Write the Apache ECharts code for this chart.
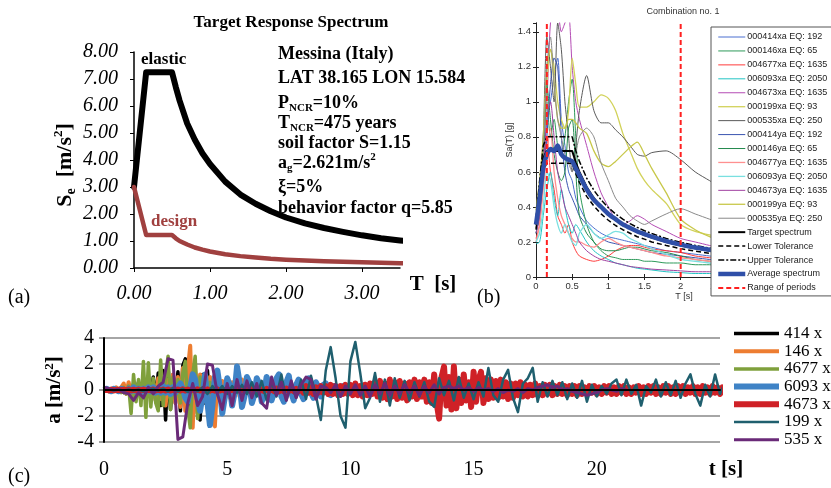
<!DOCTYPE html>
<html><head><meta charset="utf-8">
<script src="https://cdn.jsdelivr.net/npm/echarts@6/dist/echarts.min.js"></script>
<style>html,body{margin:0;padding:0;background:#fff}#c{width:831px;height:488px}</style>
</head><body><div id="c"></div>
<script>
// ---------------- Panel (a): target response spectrum ----------------
const periodsA = [0,0.16,0.5,0.55,0.6,0.7,0.8,0.9,1.0,1.2,1.4,1.6,1.8,2.0,2.25,2.5,2.75,3.0,3.25,3.5,3.75];
const elasticSe = [3.0,7.25,7.25,6.7,6.2,5.35,4.75,4.25,3.85,3.2,2.72,2.38,2.1,1.87,1.65,1.48,1.34,1.21,1.1,1.02,0.95];
const designSe  = [3.0,1.22,1.22,1.1,1.0,0.87,0.76,0.68,0.61,0.51,0.44,0.385,0.34,0.31,0.28,0.25,0.23,0.21,0.19,0.18,0.17];
const axisA = {xMax:3.5, xStep:1, yMax:8, yStep:1};

// ---------------- Panel (b): spectra of records ----------------
const periodsB = [0,0.05,0.1,0.15,0.2,0.25,0.3,0.35,0.4,0.45,0.5,0.55,0.6,0.7,0.8,0.9,1.0,1.1,1.2,1.3,1.4,1.5,1.6,1.8,2.0,2.2,2.4,2.6,2.8,3.0,3.5,4.0];
const rec000414xa = [0.3,0.4,0.6,0.9,1.0,1.15,1.25,0.9,0.75,0.6, 0.55,0.45,0.4,0.32,0.28,0.25,0.23,0.22,0.21,0.2, 0.19,0.18,0.17,0.15,0.14,0.13,0.12,0.11,0.10,0.09, 0.075,0.06];
const rec000146xa = [0.28,0.4,0.7,1.0,0.8,0.9,0.75,0.7,0.8,1.0, 1.13,0.8,0.5,0.3,0.2,0.15,0.12,0.11,0.1,0.1, 0.1,0.09,0.09,0.08,0.08,0.07,0.07,0.06,0.06,0.05, 0.045,0.04];
const rec004677xa = [0.22,0.3,0.55,0.8,0.6,0.5,0.35,0.3,0.25,0.3, 0.2,0.15,0.12,0.1,0.09,0.1,0.12,0.15,0.17,0.18, 0.18,0.17,0.16,0.15,0.14,0.12,0.11,0.1,0.09,0.08, 0.07,0.06];
const rec006093xa = [0.19,0.2,0.35,0.5,0.6,0.45,0.35,0.5,0.4,0.3, 0.25,0.3,0.27,0.2,0.15,0.12,0.1,0.08,0.07,0.06, 0.05,0.045,0.04,0.03,0.025,0.02,0.02,0.02,0.02,0.015, 0.015,0.01];
const rec004673xa = [0.3,0.5,0.8,1.0,1.45,1.5,1.5,1.4,1.45,1.5, 1.2,1.0,0.9,0.75,0.6,0.48,0.4,0.33,0.3,0.32, 0.35,0.33,0.3,0.26,0.22,0.2,0.18,0.16,0.15,0.14, 0.12,0.1];
const rec000199xa = [0.35,0.5,0.7,1.1,1.3,1.2,1.0,0.9,0.85,0.95, 1.25,1.1,0.97,0.97,1.0,1.04,1.02,0.95,0.82,0.72, 0.62,0.55,0.5,0.42,0.3,0.26,0.24,0.22,0.2,0.18, 0.15,0.13];
const rec000535xa = [0.3,0.45,0.8,1.37,1.2,1.0,1.45,1.3,1.0,0.8, 0.6,0.75,0.95,1.15,0.95,0.88,0.88,0.84,0.8,0.75, 0.7,0.69,0.71,0.72,0.67,0.6,0.55,0.5,0.47,0.44, 0.38,0.32];
const rec000414ya = [0.25,0.35,0.55,0.8,1.1,1.25,1.2,0.8,0.6,0.5, 0.45,0.4,0.35,0.3,0.25,0.22,0.2,0.19,0.18,0.17, 0.16,0.15,0.14,0.13,0.12,0.11,0.1,0.09,0.085,0.08, 0.07,0.06];
const rec000146ya = [0.25,0.35,0.6,1.1,0.9,0.7,0.6,0.55,0.6,0.85, 0.9,0.6,0.35,0.25,0.2,0.16,0.15,0.15,0.16,0.17, 0.17,0.16,0.15,0.14,0.12,0.1,0.09,0.08,0.07,0.06, 0.05,0.045];
const rec004677ya = [0.2,0.3,0.5,0.7,0.85,0.6,0.45,0.35,0.3,0.25, 0.22,0.2,0.2,0.18,0.17,0.2,0.22,0.2,0.18,0.17, 0.16,0.15,0.14,0.12,0.11,0.1,0.09,0.08,0.07,0.06, 0.05,0.04];
const rec006093ya = [0.2,0.25,0.4,0.6,0.55,0.4,0.3,0.25,0.3,0.25, 0.2,0.18,0.25,0.3,0.25,0.22,0.24,0.26,0.25,0.22, 0.2,0.18,0.16,0.13,0.1,0.09,0.08,0.07,0.06,0.05, 0.04,0.03];
const rec004673ya = [0.25,0.35,0.6,0.9,1.0,0.8,0.6,0.5,0.4,0.35, 0.3,0.25,0.2,0.15,0.12,0.1,0.09,0.08,0.07,0.06, 0.055,0.05,0.045,0.04,0.035,0.03,0.03,0.025,0.025,0.02, 0.02,0.015];
const rec000199ya = [0.38,0.55,0.8,1.2,1.3,1.1,0.9,0.85,0.85,0.9, 0.9,0.88,0.85,0.82,0.72,0.65,0.63,0.66,0.7,0.74, 0.77,0.7,0.62,0.48,0.33,0.27,0.23,0.2,0.18,0.16, 0.13,0.1];
const rec000535ya = [0.3,0.4,0.7,1.2,1.37,1.1,0.9,0.8,0.7,0.65, 0.6,0.7,0.8,0.85,0.8,0.65,0.55,0.45,0.4,0.35, 0.32,0.3,0.32,0.36,0.39,0.36,0.33,0.3,0.28,0.26, 0.22,0.18];
const targetSa  = [0.3,0.5,0.68,0.72,0.72,0.72,0.72,0.72,0.72,0.72, 0.72,0.655,0.6,0.514,0.45,0.4,0.36,0.327,0.3,0.277, 0.257,0.24,0.225,0.2,0.18,0.164,0.15,0.138,0.129,0.12, 0.103,0.09];
const lowerTolSa = [0.27,0.45,0.61,0.65,0.65,0.65,0.65,0.65,0.65,0.65, 0.65,0.59,0.54,0.46,0.405,0.36,0.324,0.294,0.27,0.25, 0.23,0.216,0.2,0.18,0.162,0.148,0.135,0.124,0.116,0.108, 0.093,0.081];
const upperTolSa = [0.33,0.55,0.75,0.8,0.8,0.8,0.8,0.8,0.8,0.8, 0.8,0.72,0.66,0.565,0.495,0.44,0.396,0.36,0.33,0.305, 0.283,0.264,0.248,0.22,0.198,0.18,0.165,0.152,0.142,0.132, 0.113,0.099];
const averageSa = [0.3,0.45,0.62,0.7,0.73,0.72,0.75,0.7,0.68,0.67, 0.66,0.62,0.58,0.5,0.44,0.4,0.36,0.33,0.3,0.28, 0.26,0.245,0.23,0.205,0.185,0.168,0.155,0.143,0.133,0.124, 0.105,0.092];
const rangeOfPeriods = [0.15, 2.0];
const recordNames = ['000414xa EQ: 192','000146xa EQ: 65','004677xa EQ: 1635','006093xa EQ: 2050','004673xa EQ: 1635','000199xa EQ: 93','000535xa EQ: 250','000414ya EQ: 192','000146ya EQ: 65','004677ya EQ: 1635','006093ya EQ: 2050','004673ya EQ: 1635','000199ya EQ: 93','000535ya EQ: 250'];
const recordValues = [rec000414xa,rec000146xa,rec004677xa,rec006093xa,rec004673xa,rec000199xa,rec000535xa,rec000414ya,rec000146ya,rec004677ya,rec006093ya,rec004673ya,rec000199ya,rec000535ya];
const axisB = {xMax:4, xStep:0.5, yMax:1.45, yStep:0.2};

// ---------------- Panel (c): accelerograms ----------------
const accNames = ['414 x','146 x','4677 x','6093 x','4673 x','199 x','535 x'];
const step414 = 0.1;
const acc414 = [0,0.1,-0.1,0.1,0,-0.1,0.1,0,-0.2,0.2, 0.3,-0.4,0.5,-0.3,0.6,-0.5,0.4,-0.6,0.8,-0.7, 1.0,-0.9,1.3,-1.2,1.5,-2.3,1.8,-1.5,1.2,-1.0, 1.4,-1.6,1.9,2.4,-1.8,1.5,-1.2,1.6,-1.9,-2.3, 1.2,-1.0,1.5,-1.2,0.9,-0.8,1.0,-0.7,0.6,-0.5, 0.5,-0.4,0.4,-0.3,0.3,-0.3,0.2,-0.2,0.2,-0.1, 0];
const step146 = 0.1;
const acc146 = [0,0.1,-0.1,0.1,-0.1,0.2,-0.1,0.2,0.5,-0.3, 0.6,-0.4,0.3,-0.3,0.4,-0.5,0.3,-0.2,0.4,-0.6, 0.5,-0.8,0.9,-0.7,1.0,-1.2,0.8,-0.6,1.2,-1.0, 1.0,-1.3,1.7,-1.6,1.5,3.4,-2.9,1.9,-1.8,1.2, -1.0,1.1,-1.4,1.0,-2.0,-2.8,0.9,-0.8,0.7,-0.6, 0.8,-0.6,0.6,-0.5,0.6,-0.5,0.8,-0.6,0.5,-0.4, 0.4,-0.3,0.5,-0.4,0.3,-0.3,0.3,-0.2,0.2,-0.2, 0];
const step4677 = 0.1;
const acc4677 = [0,0,0.1,-0.1,0.1,-0.1,0.1,-0.2,0.2,-0.3, 0.3,-1.8,1.2,-0.9,0.8,-1.2,2.2,-2.1,2.1,-1.3, 0.9,-1.0,-1.6,2.3,-1.2,1.1,2.6,-1.5,1.0,-0.7, 0.8,-1.0,1.3,2.2,-1.4,-2.9,1.2,2.6,-2.2,1.0, -0.8,0.7,-0.6,0.6,-0.5,0.5,-0.4,0.4,-0.3,0.3, -0.3,0.2,-0.2,0.2,-0.2,0.1,-0.1,0.1,-0.1,0.1, 0];
const step6093 = 0.1;
const acc6093 = [0,0.1,0,-0.1,0.1,0,-0.1,0.1,0,-0.1, 0.1,-0.1,0.2,-0.1,0.1,-0.2,0.1,-0.1,0.2,-0.1, 0.2,-0.2,0.1,-0.2,0.3,-0.2,0.2,-0.3,0.2,-0.2, 0.2,0.5,0.1,-0.6,-0.9,0.2,1.2,0.8,-0.7,-1.6, -0.4,1.2,-1.0,-2.7,-1.2,1.0,1.5,0.2,-1.8,-0.6, 0.9,0.4,-1.2,-0.2,1.8,0.6,-1.3,-0.5,1.0,0.6, -1.0,-0.4,0.9,0.5,-0.9,-0.3,1.0,0.4,-0.8,-0.2, 0.9,1.2,-0.5,-0.9,0.6,1.1,-0.2,-0.8,0.4,0.8, -0.3,-0.7,0.5,0.9,-0.2,-0.6,0.6,0.2,-0.5,0.4, 0.5,-0.3,-0.4,0.3,0.3,-0.3,-0.2,0.3,0.1,-0.2, -0.2,0.2,-0.2,0.2,-0.2,0.1,-0.2,0.2,-0.1,0.2, -0.1,0.1,-0.1,0.1,-0.1,0.1,-0.1,0.1,-0.1,0];
const step4673 = 0.1;
const acc4673 = [0,0.02,-0.02,0.02,-0.02,0,0.02,-0.02,0.02,-0.02, 0.03,-0.03,0.02,-0.03,0.03,-0.02,0.03,-0.03,0.03,-0.02, 0.04,-0.03,0.03,-0.04,0.04,-0.03,0.04,-0.04,0.03,-0.04, 0.04,-0.03,0.05,-0.04,0.03,-0.05,0.04,-0.03,0.05,-0.04, 0.05,-0.04,0.05,-0.05,0.04,-0.05,0.05,-0.04,0.05,-0.05, 0.06,-0.05,0.05,-0.06,0.06,-0.05,0.06,-0.06,0.05,-0.06, 0.08,-0.06,0.08,-0.08,0.06,-0.08,0.08,-0.06,0.08,-0.08, 0.1,-0.1,0.08,-0.1,0.1,-0.08,0.1,-0.1,0.08,-0.1, 0.2,-0.2,0.3,-0.2,0.2,-0.3,0.2,-0.2,0.3,-0.2, 0.3,-0.3,0.4,-0.3,0.3,-0.4,0.3,-0.3,0.4,-0.3, 0.4,-0.4,0.5,-0.4,0.3,-0.5,0.4,-0.4,0.5,-0.3, 0.6,-0.5,0.7,-0.6,0.5,-0.7,0.8,-0.5,0.6,-0.7, 0.7,-0.6,0.5,-0.8,0.6,-0.5,0.8,-0.7,0.6,-0.5, 0.8,-0.9,0.6,-1.0,1.2,-1.0,-2.2,1.0,1.8,-1.2, 1.0,-1.5,1.8,-1.4,0.8,-1.0,1.2,-0.8,0.6,-1.3, 1.4,-0.9,0.8,1.4,-1.0,0.9,-0.7,0.8,-0.6,0.7, -0.6,0.8,-0.5,0.6,-0.7,0.5,-0.6,0.5,-0.4,0.6, -0.5,0.4,-0.5,0.4,-0.4,0.5,-0.4,0.3,-0.4,0.4, -0.3,0.4,-0.4,0.3,-0.3,0.4,-0.3,0.3,-0.4,0.3, -0.3,0.3,-0.4,0.3,-0.3,0.2,-0.3,0.3,-0.2,0.3, -0.3,0.2,-0.3,0.3,-0.2,0.3,-0.3,0.2,-0.3,0.3, -0.2,0.3,-0.3,0.2,-0.3,0.2,-0.2,0.3,-0.3,0.2, -0.3,0.3,-0.2,0.3,-0.3,0.2,-0.3,0.3,-0.2,0.3, -0.3,0.2,-0.3,0.3,-0.2,0.3,-0.3,0.2,-0.2,0.3, -0.3,0.2,-0.3,0.3,-0.2,0.2,-0.3,0.3,-0.2,0.2, -0.3,0.2,-0.2,0.3,-0.2,0.2,-0.3,0.2,-0.2,0.2, -0.2,0.2,-0.2,0.1,-0.2,0.1];
const step199 = 0.2;
const acc199 = [0,0.05,-0.05,0.05,-0.05,0.05,-0.05,0.05,-0.1,0.05, 0.1,-0.05,0.1,-0.1,0.15,-0.1,0.1,-0.15,0.15,-0.1, 0.2,-0.3,0.3,-0.2,0.3,-0.3,0.3,-0.2,0.4,-0.3, 0.6,-0.5,0.7,-0.8,0.6,-0.5,1.2,-0.8,0.5,-0.6, 0.8,-0.7,1.1,-0.4,-2.3,1.5,3.3,0.9,-2.0,-2.9, 2.2,3.7,1.3,-1.4,-0.6,1.3,-0.9,0.8,-1.2,0.9, -0.6,0.7,-0.8,0.6,-0.5,0.6,-0.9,-1.3,0.9,-0.4, 0.7,-0.8,1.0,-0.6,0.5,-0.7,0.6,-0.5,1.7,-0.4, -0.9,0.8,1.55,-0.6,-1.7,0.5,0.9,1.7,-0.9,0.6, -0.5,0.7,-0.4,0.6,-0.7,0.5,-0.6,0.7,-0.9,0.4, -0.5,0.3,-0.3,0.5,0.8,-0.4,0.8,-0.3,0.4,-1.2, 0.3,-0.2,0.8,-0.5,0.6,-0.4,0.7,-0.6,0.5,1.2, -0.3,-1.2,0.4,-0.5,1.2,-0.3,0.6,-0.7,0.3,-0.6, 0.4,-0.2,0.1];
const step535 = 0.2;
const acc535 = [0.2,0.1,0.0,0.05,-0.2,-0.3,-0.8,-0.2,-0.6,0.2, -0.3,0.3,0.6,2.4,2.3,-3.8,-3.6,-1.0,0.5,-1.2, -0.5,2.0,1.9,-0.3,-1.5,0.5,-1.2,0.8,-0.8,0.7, -0.6,0.5,-1.0,-1.4,1.0,-0.4,0.6,-0.8,0.7,-0.6, 0.4,1.0,0.8,-0.7,0.3,0.2,-0.2,0.4,-0.5,0.3, -0.3,0.4,-0.4,0.3,-0.5,0.4,-0.3,0.5,-0.4,0.3, -0.3,0.4,-0.2,0.3,-0.4,0.3,-0.2,0.4,-0.3,0.2, 0.3,0.1,0.3,0.0,0.2,-0.1,0.2,0.0,0.1,-0.1, 0.1,-0.2,0.0,-0.1,0.1,-0.2,0.1,0.0,0.2,0.3, 0.4,0.2,0.3,0.0,0.1,-0.1,-0.2,-0.3,-0.4,-0.3, -0.2,0.0,0.1,0.0,-0.1,0.1,0.0];
const accSeries = [[acc414,step414],[acc146,step146],[acc4677,step4677],[acc6093,step6093],[acc4673,step4673],[acc199,step199],[acc535,step535]];
const axisC = {xMax:25, xStep:5, yMin:-4, yMax:4, yStep:2};

// ---------------- styles ----------------
const SERIF = "'Liberation Serif','Times New Roman',serif";
const SANS = "'Liberation Sans',Arial,sans-serif";
const recStyle = [
  ['#4a6fd0',1],['#2e9a5a',1],['#ff3b3b',1],['#22c4c4',1],['#b44bb4',1],['#d2d25a',1.3],['#5a5a5a',1],
  ['#3a54b0',1],['#238a4e',1],['#ff9090',1.3],['#7ae0e0',1.3],['#a040a0',1],['#c8c84a',1.3],['#8a8a8a',1]
];
const accStyle = [['#000000',3.5],['#ED7D31',4],['#7FA03C',3.5],['#3F83C6',6],['#CF2127',6],['#1F5F6E',2.5],['#6A2A78',3]];

const pairs = (xs, ys) => ys.map((v, i) => [xs[i], v]);
const timePairs = (vals, dt) => vals.map((v, i) => [Math.round(i * dt * 100) / 100, v]);

const series = [];
// panel a
series.push({type:'line', name:'elastic', xAxisIndex:0, yAxisIndex:0, data:pairs(periodsA, elasticSe), symbol:'none', clip:false, lineStyle:{color:'#000', width:6, cap:'round', join:'round'}});
series.push({type:'line', name:'design', xAxisIndex:0, yAxisIndex:0, data:pairs(periodsA, designSe), symbol:'none', clip:false, lineStyle:{color:'#A0403F', width:4.5, cap:'round', join:'round'}});
// panel b
recordValues.forEach((vals, i) => {
  series.push({type:'line', name:recordNames[i], xAxisIndex:1, yAxisIndex:1, data:pairs(periodsB, vals), symbol:'none', smooth:0.25, itemStyle:{color:recStyle[i][0]}, lineStyle:{color:recStyle[i][0], width:recStyle[i][1]}});
});
series.push({type:'line', name:'Target spectrum', xAxisIndex:1, yAxisIndex:1, data:pairs(periodsB, targetSa), symbol:'none', itemStyle:{color:'#000'}, lineStyle:{color:'#000', width:2}});
series.push({type:'line', name:'Lower Tolerance', xAxisIndex:1, yAxisIndex:1, data:pairs(periodsB, lowerTolSa), symbol:'none', itemStyle:{color:'#000'}, lineStyle:{color:'#000', width:1.5, type:[5,3]}});
series.push({type:'line', name:'Upper Tolerance', xAxisIndex:1, yAxisIndex:1, data:pairs(periodsB, upperTolSa), symbol:'none', itemStyle:{color:'#000'}, lineStyle:{color:'#000', width:1.5, type:[6,2,2,2]}});
series.push({type:'line', name:'Average spectrum', xAxisIndex:1, yAxisIndex:1, data:pairs(periodsB, averageSa), symbol:'none', smooth:0.2, itemStyle:{color:'#2F4FA8'}, lineStyle:{color:'#2F4FA8', width:4.5}});
rangeOfPeriods.forEach(T => {
  series.push({type:'line', name:'Range of periods', xAxisIndex:1, yAxisIndex:1, data:[[T,0],[T,axisB.yMax]], symbol:'none', itemStyle:{color:'#FF2020'}, lineStyle:{color:'#FF2020', width:2, type:[5,3]}});
});
// panel c
accSeries.forEach(([vals, dt], i) => {
  series.push({type:'line', name:accNames[i], xAxisIndex:3, yAxisIndex:3, data:timePairs(vals, dt), symbol:'none', clip:false, itemStyle:{color:accStyle[i][0]}, lineStyle:{color:accStyle[i][0], width:accStyle[i][1], join:'round'}});
});

const noLabel = {show:false};
const option = {
  animation:false,
  backgroundColor:'#fff',
  grid:[
    {left:134, top:52, width:266, height:216},
    {left:536, top:23, width:296, height:254},
    {left:104, top:338, width:616, height:104}
  ],
  xAxis:[
    {type:'value', gridIndex:0, min:0, max:axisA.xMax, interval:axisA.xStep,
     axisLine:{lineStyle:{color:'#000', width:1.5}}, axisTick:{length:4, lineStyle:{color:'#000'}},
     splitLine:{show:false},
     axisLabel:{margin:16, showMaxLabel:false, formatter:v=>v.toFixed(2), fontFamily:SERIF, fontStyle:'italic', fontSize:20, color:'#000'}},
    {type:'value', gridIndex:1, min:0, max:axisB.xMax, interval:axisB.xStep,
     axisLine:{lineStyle:{color:'#222', width:1}}, axisTick:{inside:true, length:3, lineStyle:{color:'#222'}},
     splitLine:{show:false},
     axisLabel:{margin:4, fontFamily:SANS, fontSize:9.5, color:'#333'}},
    {type:'value', gridIndex:1, position:'top', min:0, max:axisB.xMax, interval:axisB.xStep,
     axisLine:{lineStyle:{color:'#222', width:1}}, axisTick:{inside:true, length:3, lineStyle:{color:'#222'}},
     splitLine:{show:false}, axisLabel:noLabel},
    {type:'value', gridIndex:2, min:0, max:axisC.xMax, interval:axisC.xStep, z:3,
     axisLine:{lineStyle:{color:'#A0A0A0', width:2}}, axisTick:{length:6, lineStyle:{color:'#A0A0A0', width:2}},
     splitLine:{show:false},
     axisLabel:{margin:18, showMaxLabel:false, fontFamily:SERIF, fontSize:20, color:'#000'}},
    {type:'value', gridIndex:2, position:'top', min:0, max:axisC.xMax, z:4,
     axisLine:{lineStyle:{color:'#000', width:2}}, axisTick:{show:false}, splitLine:{show:false}, axisLabel:noLabel}
  ],
  yAxis:[
    {type:'value', gridIndex:0, min:0, max:axisA.yMax, interval:axisA.yStep,
     axisLine:{show:true, lineStyle:{color:'#000', width:1.5}}, axisTick:{show:true, length:4, lineStyle:{color:'#000'}},
     splitLine:{show:false},
     axisLabel:{margin:16, formatter:v=>v.toFixed(2), fontFamily:SERIF, fontStyle:'italic', fontSize:20, color:'#000'}},
    {type:'value', gridIndex:1, min:0, max:axisB.yMax, interval:axisB.yStep,
     axisLine:{show:true, lineStyle:{color:'#222', width:1}}, axisTick:{show:true, inside:true, length:3, lineStyle:{color:'#222'}},
     splitLine:{show:false},
     axisLabel:{margin:5, showMaxLabel:false, fontFamily:SANS, fontSize:9.5, color:'#333'}},
    {type:'value', gridIndex:1, position:'right', min:0, max:axisB.yMax, interval:axisB.yStep,
     axisLine:{show:true, lineStyle:{color:'#222', width:1}}, axisTick:{show:true, inside:true, length:3, lineStyle:{color:'#222'}},
     splitLine:{show:false}, axisLabel:noLabel},
    {type:'value', gridIndex:2, min:axisC.yMin, max:axisC.yMax, interval:axisC.yStep, z:3,
     axisLine:{show:true, lineStyle:{color:'#A0A0A0', width:2}}, axisTick:{show:true, length:5, lineStyle:{color:'#A0A0A0', width:2}},
     splitLine:{show:true, lineStyle:{color:'#A6A6A6', width:2}},
     axisLabel:{margin:10, fontFamily:SERIF, fontSize:20, color:'#000'}},
    {type:'value', gridIndex:2, position:'right', min:axisC.yMin, max:axisC.yMax, z:4,
     axisLine:{show:true, lineStyle:{color:'#000', width:2}}, axisTick:{show:false}, splitLine:{show:false}, axisLabel:noLabel}
  ],
  legend:[
    {orient:'vertical', left:711, top:27, padding:[5,6,3,5], itemWidth:27, itemHeight:10, itemGap:3.94,
     backgroundColor:'#fff', borderColor:'#555', borderWidth:1, z:6,
     data:recordNames.concat(['Target spectrum','Lower Tolerance','Upper Tolerance','Average spectrum','Range of periods']),
     lineStyle:{width:'inherit'}, itemStyle:{opacity:0}, selectedMode:false,
     textStyle:{fontFamily:SANS, fontSize:9, lineHeight:10, color:'#222', padding:[0,0,0,-3]}},
    {orient:'vertical', left:731, top:325, padding:0, itemWidth:45, itemHeight:14, itemGap:0.7,
     data:accNames, lineStyle:{width:'inherit'}, itemStyle:{opacity:0}, selectedMode:false,
     textStyle:{fontFamily:SERIF, fontSize:17, lineHeight:14, color:'#000'}}
  ],
  graphic:[
    // panel a texts
    {type:'text', x:291, y:23, style:{text:'Target Response Spectrum', font:"bold 17px "+SERIF, fill:'#000', align:'center', verticalAlign:'middle'}},
    {type:'text', x:141, y:60, style:{text:'elastic', font:"bold 17px "+SERIF, fill:'#000', align:'left', verticalAlign:'middle'}},
    {type:'text', x:151, y:222, style:{text:'design', font:"bold 17px "+SERIF, fill:'#A0403F', align:'left', verticalAlign:'middle'}},
    {type:'text', x:278, y:54, style:{text:'Messina (Italy)', font:"bold 18px "+SERIF, fill:'#000', align:'left', verticalAlign:'middle'}},
    {type:'text', x:278, y:78, style:{text:'LAT 38.165 LON 15.584', font:"bold 18px "+SERIF, fill:'#000', align:'left', verticalAlign:'middle'}},
    {type:'text', x:278, y:103, style:{text:'{m|P}{s|NCR}{m|=10%}', align:'left', verticalAlign:'middle',
      rich:{m:{font:"bold 18px "+SERIF, fill:'#000', lineHeight:22, verticalAlign:'middle'}, s:{font:"bold 11px "+SERIF, fill:'#000', lineHeight:10, verticalAlign:'bottom'}}}},
    {type:'text', x:278, y:123, style:{text:'{m|T}{s|NCR}{m|=475 years}', align:'left', verticalAlign:'middle',
      rich:{m:{font:"bold 18px "+SERIF, fill:'#000', lineHeight:22, verticalAlign:'middle'}, s:{font:"bold 11px "+SERIF, fill:'#000', lineHeight:10, verticalAlign:'bottom'}}}},
    {type:'text', x:278, y:143, style:{text:'soil factor S=1.15', font:"bold 18px "+SERIF, fill:'#000', align:'left', verticalAlign:'middle'}},
    {type:'text', x:278, y:163, style:{text:'{m|a}{s|g}{m|=2.621m/s}{p|2}', align:'left', verticalAlign:'middle',
      rich:{m:{font:"bold 18px "+SERIF, fill:'#000', lineHeight:22, verticalAlign:'middle'}, s:{font:"bold 11px "+SERIF, fill:'#000', lineHeight:10, verticalAlign:'bottom'}, p:{font:"bold 11px "+SERIF, fill:'#000', lineHeight:12, verticalAlign:'top'}}}},
    {type:'text', x:278, y:187, style:{text:'ξ=5%', font:"bold 18px "+SERIF, fill:'#000', align:'left', verticalAlign:'middle'}},
    {type:'text', x:278, y:208, style:{text:'behavior factor q=5.85', font:"bold 18px "+SERIF, fill:'#000', align:'left', verticalAlign:'middle'}},
    {type:'text', x:65, y:165, rotation:Math.PI/2, style:{text:'{m|S}{s|e}{m|  [m/s}{p|2}{m|]}', align:'center', verticalAlign:'middle',
      rich:{m:{font:"bold 22px "+SERIF, fill:'#000', lineHeight:26, verticalAlign:'middle'}, s:{font:"bold 14px "+SERIF, fill:'#000', lineHeight:12, verticalAlign:'bottom'}, p:{font:"bold 13px "+SERIF, fill:'#000', lineHeight:14, verticalAlign:'top'}}}},
    {type:'text', x:433, y:285, style:{text:'T  [s]', font:"bold 21px "+SERIF, fill:'#000', align:'center', verticalAlign:'middle'}},
    {type:'text', x:8, y:298, style:{text:'(a)', font:"20px "+SERIF, fill:'#000', align:'left', verticalAlign:'middle'}},
    // panel b texts
    {type:'text', x:683, y:12, style:{text:'Combination no. 1', font:"9px "+SANS, fill:'#333', align:'center', verticalAlign:'middle'}},
    {type:'text', x:510, y:140, rotation:Math.PI/2, style:{text:'Sa(T) [g]', font:"9px "+SANS, fill:'#333', align:'center', verticalAlign:'middle'}},
    {type:'text', x:684, y:297, style:{text:'T [s]', font:"9px "+SANS, fill:'#333', align:'center', verticalAlign:'middle'}},
    {type:'text', x:477, y:298, style:{text:'(b)', font:"20px "+SERIF, fill:'#000', align:'left', verticalAlign:'middle'}},
    // panel c texts
    {type:'text', x:55, y:390, rotation:Math.PI/2, style:{text:'{m|a [m/s}{p|2}{m|]}', align:'center', verticalAlign:'middle',
      rich:{m:{font:"bold 21px "+SERIF, fill:'#000', lineHeight:24, verticalAlign:'middle'}, p:{font:"bold 13px "+SERIF, fill:'#000', lineHeight:14, verticalAlign:'top'}}}},
    {type:'text', x:726, y:470, style:{text:'t [s]', font:"bold 21px "+SERIF, fill:'#000', align:'center', verticalAlign:'middle'}},
    {type:'text', x:8, y:477, style:{text:'(c)', font:"20px "+SERIF, fill:'#000', align:'left', verticalAlign:'middle'}}
  ],
  series: series
};
const chart = echarts.init(document.getElementById('c'), null, {renderer:'canvas'});
chart.setOption(option);
</script></body></html>
